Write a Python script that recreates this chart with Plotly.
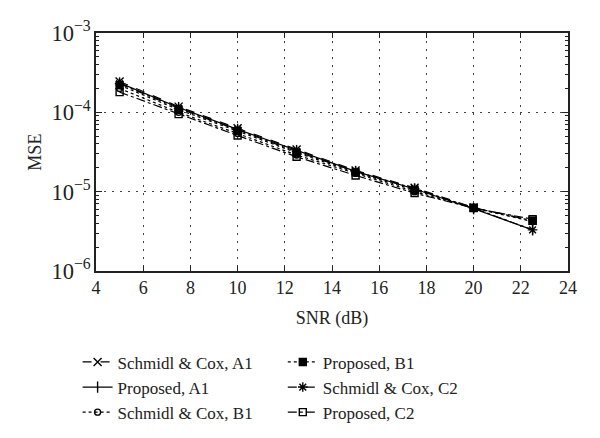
import plotly.graph_objects as go

snr = [5, 7.5, 10, 12.5, 15, 17.5, 20, 22.5]
sc_a1 = [2.45e-4, 1.18e-4, 6.3e-5, 3.4e-5, 1.85e-5, 1.12e-5, 6.3e-6, 4.3e-6]
prop_a1 = [2.35e-4, 1.15e-4, 6.1e-5, 3.3e-5, 1.8e-5, 1.08e-5, 6.1e-6, 3.3e-6]
sc_b1 = [2.0e-4, 1.0e-4, 5.4e-5, 2.9e-5, 1.7e-5, 1.0e-5, 6.2e-6, 4.2e-6]
prop_b1 = [2.2e-4, 1.08e-4, 5.8e-5, 3.1e-5, 1.75e-5, 1.05e-5, 6.3e-6, 4.3e-6]
sc_c2 = [2.3e-4, 1.12e-4, 6.0e-5, 3.2e-5, 1.8e-5, 1.1e-5, 6.2e-6, 3.3e-6]
prop_c2 = [1.8e-4, 0.95e-4, 5.1e-5, 2.75e-5, 1.6e-5, 9.6e-6, 6.2e-6, 4.5e-6]

names = ["Schmidl & Cox, A1", "Proposed, A1", "Schmidl & Cox, B1",
         "Proposed, B1", "Schmidl & Cox, C2", "Proposed, C2"]
series = [sc_a1, prop_a1, sc_b1, prop_b1, sc_c2, prop_c2]
dashes = ["dash", "solid", "dot", "dot", "dashdot", "dashdot"]
symbols = ["x-thin-open", "line-ns-open", "circle-open", "square", "asterisk-open", "square-open"]
sizes = [8, 8, 6, 7, 8, 7]
legends = ["legend", "legend", "legend", "legend2", "legend2", "legend2"]

fig = go.Figure()
for nm, ys, d, s, sz, lg in zip(names, series, dashes, symbols, sizes, legends):
    fig.add_trace(go.Scatter(
        x=snr, y=ys, name=nm, mode="lines+markers",
        line=dict(color="black", width=1.2, dash=d),
        marker=dict(symbol=s, size=sz, color="black",
                    line=dict(color="black", width=1.4)),
        legend=lg,
    ))

fam = "Liberation Serif, Times New Roman, serif"
font = dict(family=fam, size=18, color="#222")
legfont = dict(family=fam, size=17, color="#222")
fig.update_layout(
    width=600, height=438,
    margin=dict(l=88, r=40, t=25, b=175, autoexpand=False),
    paper_bgcolor="white", plot_bgcolor="white",
    font=font,
    legend=dict(xref="container", yref="container", x=0.116, y=0.232,
                xanchor="left", yanchor="top",
                bgcolor="rgba(0,0,0,0)", tracegroupgap=0, itemwidth=30,
                font=legfont),
    legend2=dict(xref="container", yref="container", x=0.458, y=0.232,
                 xanchor="left", yanchor="top",
                 bgcolor="rgba(0,0,0,0)", tracegroupgap=0, itemwidth=30,
                 font=legfont),
    annotations=[dict(text="MSE", textangle=-90, xref="paper", yref="paper",
                      x=-0.13, y=0.5, xanchor="center", yanchor="middle",
                      showarrow=False, font=dict(family=fam, size=18, color="#222"))],
)
fig.update_xaxes(
    range=[4, 24], dtick=2, tick0=4,
    ticks="inside", ticklen=5, tickcolor="#222", tickfont=dict(size=18),
    showline=True, linecolor="#222", linewidth=1.5, mirror="ticks",
    showgrid=True, gridcolor="#444", griddash="2px,6px", gridwidth=1,
    zeroline=False,
    title=dict(text="SNR (dB)", standoff=14, font=dict(size=18)),
)
fig.update_yaxes(
    type="log", range=[-6, -3], dtick=1, exponentformat="power",
    ticks="inside", ticklen=6, tickcolor="#222", tickfont=dict(size=18),
    minor=dict(ticks="inside", ticklen=3, tickcolor="#222", showgrid=False),
    showline=True, linecolor="#222", linewidth=1.5, mirror="ticks",
    showgrid=True, gridcolor="#444", griddash="2px,6px", gridwidth=1,
    zeroline=False,
)
fig.write_html("out.html")
